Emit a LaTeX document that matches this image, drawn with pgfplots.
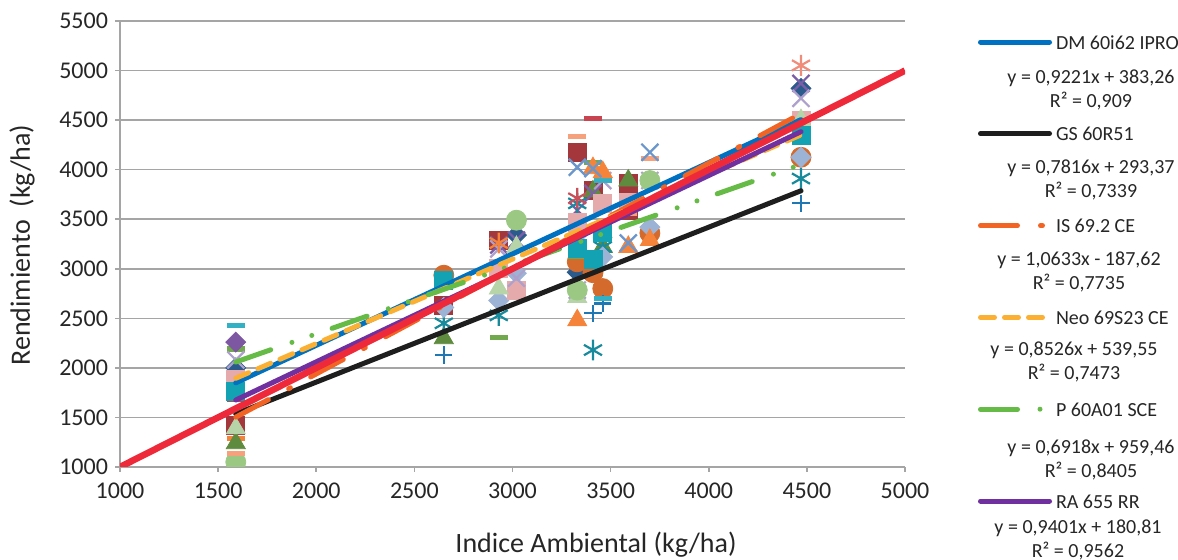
\documentclass[border=0pt]{standalone}
\usepackage{pgfplots}
\pgfplotsset{compat=1.18}
\usepackage{fontspec}
\setmainfont{Carlito}
\definecolor{txt}{HTML}{262626}
\definecolor{gridgray}{HTML}{A5A5A5}
\definecolor{dmblue}{HTML}{0070C0}
\definecolor{gsblack}{HTML}{1E1E1E}
\definecolor{isorange}{HTML}{F26424}
\definecolor{neoyellow}{HTML}{FBB034}
\definecolor{pgreen}{HTML}{66BB46}
\definecolor{rapurple}{HTML}{7030A0}
\definecolor{oneline}{HTML}{EE2A3A}
\definecolor{cA}{HTML}{2A6DAA}
\definecolor{cB}{HTML}{F2833A}
\definecolor{cC}{HTML}{2B5B8C}
\definecolor{cD}{HTML}{A4373C}
\definecolor{cE}{HTML}{5F8B3F}
\definecolor{cF}{HTML}{7B5EA7}
\definecolor{cG}{HTML}{178A9C}
\definecolor{cH}{HTML}{D46A2C}
\definecolor{cI}{HTML}{1F78B4}
\definecolor{cJ}{HTML}{C84450}
\definecolor{cK}{HTML}{72A84E}
\definecolor{cL}{HTML}{9CB3D6}
\definecolor{cM}{HTML}{E4AAAC}
\definecolor{cN}{HTML}{B7D3A8}
\definecolor{cO}{HTML}{ADA0CC}
\definecolor{cP}{HTML}{C8505A}
\definecolor{cQ}{HTML}{F08C7A}
\definecolor{cR}{HTML}{F5843A}
\definecolor{cS}{HTML}{9BC883}
\definecolor{cT}{HTML}{33B0C4}
\definecolor{cU}{HTML}{F7A07C}
\definecolor{cV}{HTML}{12A2B4}
\definecolor{cW}{HTML}{6A96CC}
\definecolor{cX}{HTML}{7E57A2}
\pgfplotsset{
  mdia/.style={only marks, mark=diamond*, mark size=5pt, mark options={xscale=1.33, draw=#1, fill=#1, line width=0.4pt}, forget plot},
  msq/.style={only marks, mark=square*, mark size=4.5pt, mark options={draw=#1, fill=#1, line width=0.4pt}, forget plot},
  mtri/.style={only marks, mark=triangle*, mark size=5.5pt, mark options={draw=#1, fill=#1, line width=0.4pt}, forget plot},
  mx/.style={only marks, mark=x, mark size=6pt, mark options={draw=#1, line width=1.1pt}, forget plot},
  mast/.style={only marks, mark=asterisk, mark size=5.2pt, mark options={draw=#1, line width=1.1pt}, forget plot},
  mcirc/.style={only marks, mark=*, mark size=5pt, mark options={draw=#1, fill=#1, line width=0.4pt}, forget plot},
  mplus/.style={only marks, mark=+, mark size=4.3pt, mark options={draw=#1, line width=1.1pt}, forget plot},
  mdash/.style={only marks, mark=-, mark size=4.5pt, mark options={draw=#1, line width=2.6pt}, forget plot},
}
\begin{document}
\begin{tikzpicture}
\begin{axis}[
  scale only axis, width=392.5pt, height=223pt,
  xmin=1000, xmax=5000, ymin=1000, ymax=5500,
  xtick={1000,1500,...,5000}, ytick={1000,1500,...,5500},
  scaled ticks=false,
  axis lines*=left,
  axis line style={draw=gridgray, line width=0.9pt},
  ymajorgrids, grid style={draw=gridgray, line width=0.75pt},
  tick align=outside, major tick length=2.5pt,
  tick style={draw=gridgray, line width=0.8pt},
  /pgf/number format/assume math mode=true,
  /pgf/number format/1000 sep={},
  ticklabel style={font=\fontsize{12}{14}\selectfont, text=txt},
  xticklabel style={yshift=-2pt},
  xlabel={Indice Ambiental (kg/ha)}, ylabel={Rendimiento\ \ (kg/ha)},
  label style={font=\fontsize{14}{16}\selectfont, text=txt},
  xlabel style={at={(axis description cs:0.6064,-0.1749)}, anchor=center},
  ylabel style={at={(axis description cs:-0.1248,0.4978)}, anchor=center},
  clip marker paths=true,
  legend cell align=left,
  legend style={at={(axis description cs:1.09299,0.96861)}, anchor=north west,
    draw=none, fill=none, inner sep=0pt, outer sep=0pt, row sep=38.9pt, column sep=2pt,
    font=\fontsize{10}{12}\selectfont, text=txt,
    nodes={inner sep=0pt, text height=7pt, text depth=0pt}},
  legend image code/.code={\draw[#1] (0pt,0pt) -- (34.5pt,0pt);},
]
% ---- scatter markers ----
\addplot[mdash=cA] coordinates {(1590,1470)};
\addplot[mdash=cB] coordinates {(1590,1290)};
\addplot[mdia=cC] coordinates {(1590,2000) (3020,3340) (3330,2965) (4470,4820)};
\addplot[msq=cD] coordinates {(1590,1420) (2650,2630) (2930,3290) (3330,4175) (3410,3790) (3590,3863) (3590,3590)};
\addplot[mtri=cE] coordinates {(1590,1240) (2650,2300) (3410,3780) (3460,3220) (3590,3890)};
\addplot[mx=cF] coordinates {(2930,3240) (3020,3290) (3330,3590) (3410,3760) (4470,4870)};
\addplot[mast=cG] coordinates {(1590,960) (2650,2450) (2930,2530) (3330,3660) (3410,2180) (3460,3220) (4470,3910)};
\addplot[mcirc=cH] coordinates {(2650,2935) (3330,3070) (3410,2960) (3460,2800) (3700,3360) (4470,4125)};
\addplot[mplus=cI] coordinates {(1590,950) (2650,2130) (3410,2550) (3460,2650) (4470,3660)};
\addplot[mdash=cJ] coordinates {(3410,4520) (1590,1680)};
\addplot[mdash=cK] coordinates {(1590,2190) (2930,2310) (3410,4075) (3330,3120)};
\addplot[mdia=cL] coordinates {(2650,2610) (2930,2680) (3020,2955) (3330,3340) (3460,3120) (3700,3420) (4470,4125)};
\addplot[msq=cM] coordinates {(1590,1830) (1590,1880) (2930,3000) (3020,2785) (3330,3470) (3460,3660) (3590,3670) (4470,4500)};
\addplot[mtri=cN] coordinates {(1590,1390) (2930,2800) (3020,3220) (3330,2715) (3460,3370) (4470,4500)};
\addplot[mx=cO] coordinates {(1590,2080) (2930,3200) (3020,2905) (3330,2785) (3460,3890) (3700,3890) (4470,4720)};
\addplot[mast=cP] coordinates {(3330,3711)};
\addplot[mast=cQ] coordinates {(4470,5052)};
\addplot[mast=cR] coordinates {(2930,3260)};
\addplot[mcirc=cS] coordinates {(1590,1050) (3020,3490) (3330,2785) (3700,3890)};
\addplot[mdash=cT] coordinates {(1590,2431) (3460,3890) (3460,2700)};
\addplot[mdash=cU] coordinates {(1590,1140) (3330,4336) (3700,4115) (3590,3560)};
\addplot[msq=cV] coordinates {(1590,1760) (2650,2885) (3330,3210) (3410,3090) (3460,3370) (4470,4350)};
\addplot[mtri=cR] coordinates {(3330,2480) (3410,4015) (3460,3975) (3590,3220) (3700,3290)};
\addplot[mx=cW] coordinates {(3330,4024) (3410,4010) (3590,3260) (3700,4175)};
\addplot[mdia=cX] coordinates {(1590,2260)};
% ---- trend lines ----
\addplot[dmblue, line width=2.5pt, line cap=round] coordinates {(1590,1849.4) (4470,4505.0)};
\addlegendentry{DM 60i62 IPRO}
\addplot[gsblack, line width=2.5pt, line cap=round] coordinates {(1590,1536.1) (4470,3787.1)};
\addlegendentry{GS 60R51}
\addplot[isorange, line width=2.5pt, line cap=round, dash pattern=on 18.5pt off 11.5pt on 1pt off 11.5pt] coordinates {(1590,1503.0) (4470,4565.3)};
\addlegendentry{IS 69.2 CE}
\addplot[neoyellow, line width=2.5pt, line cap=round, dash pattern=on 7pt off 5pt] coordinates {(1590,1895.2) (4470,4350.7)};
\addlegendentry{Neo 69S23 CE}
\addplot[pgreen, line width=2.5pt, line cap=round, dash pattern=on 18.5pt off 11.25pt on 0pt off 10.5pt on 0pt off 10.75pt] coordinates {(1590,2059.4) (4470,4051.8)};
\addlegendentry{P 60A01 SCE}
\addplot[rapurple, line width=2.5pt, line cap=round] coordinates {(1590,1675.6) (4470,4383.1)};
\addlegendentry{RA 655 RR}
\addplot[oneline, line width=3.3pt, forget plot] coordinates {(1000,1000) (5000,5000)};
\end{axis}
\begin{scope}[every node/.style={font=\fontsize{10}{12.25}\selectfont, align=center, text=txt, inner sep=0pt}]
\node at (485.5pt,188.5pt) {y = 0,9221x + 383,26\\R² = 0,909};
\node at (485.5pt,143.5pt) {y = 0,7816x + 293,37\\R² = 0,7339};
\node at (479.5pt,97.5pt) {y = 1,0633x - 187,62\\R² = 0,7735};
\node at (477pt,52.5pt) {y = 0,8526x + 539,55\\R² = 0,7473};
\node at (485.5pt,3.5pt) {y = 0,6918x + 959,46\\R² = 0,8405};
\node at (479pt,-36.5pt) {y = 0,9401x + 180,81\\R² = 0,9562};
\end{scope}
\pgfresetboundingbox
\useasboundingbox (-60pt,-46.5pt) rectangle (529pt,233.5pt);
\end{tikzpicture}
\end{document}
